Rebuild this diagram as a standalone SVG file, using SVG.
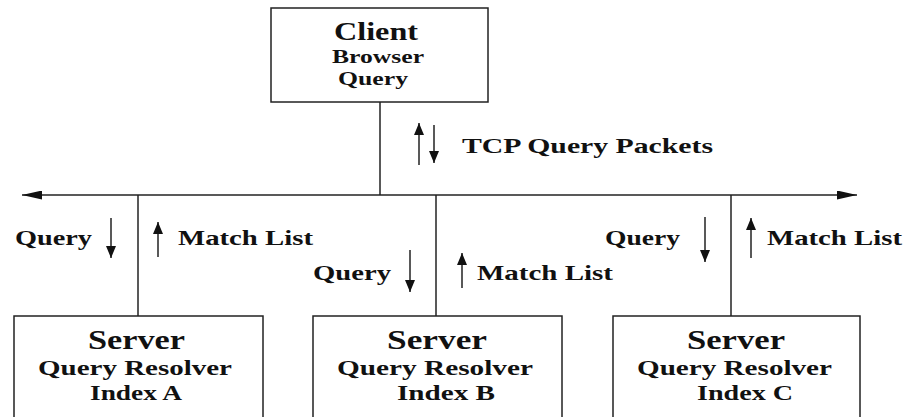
<svg xmlns="http://www.w3.org/2000/svg" width="906" height="417" viewBox="0 0 906 417">
  <style>
    .box { fill: #ffffff; stroke: #222222; stroke-width: 1.5; }
    .ln { fill: none; stroke: #222222; stroke-width: 1.5; }
    .t { font-family: "Liberation Serif", "Times New Roman", serif; font-weight: bold; fill: #111111; }
    .big { font-size: 27px; }
    .mid { font-size: 20px; }
    .lab { font-size: 21px; }
    .cl { font-size: 25px; }
    .sm { font-size: 18px; }
  </style>
  <defs>
    <marker id="ah" viewBox="0 0 12 10" refX="12" refY="5" markerWidth="12" markerHeight="10" markerUnits="userSpaceOnUse" orient="auto">
      <path d="M0,0 L12,5 L0,10 z" fill="#111111"/>
    </marker>
    <marker id="bh" viewBox="0 0 20 9" refX="20" refY="4.5" markerWidth="20" markerHeight="9" markerUnits="userSpaceOnUse" orient="auto">
      <path d="M0,0 L20,4.5 L0,9 z" fill="#111111"/>
    </marker>
  </defs>
  <rect width="906" height="417" fill="#ffffff"/>

  <g id="connectors">
    <line class="ln" x1="380" y1="102" x2="380" y2="195"/>
    <line class="ln" x1="380" y1="195" x2="22" y2="195" marker-end="url(#bh)"/>
    <line class="ln" x1="380" y1="195" x2="857" y2="195" marker-end="url(#bh)"/>
    <line class="ln" x1="138" y1="195" x2="138" y2="316"/>
    <line class="ln" x1="436" y1="195" x2="436" y2="316"/>
    <line class="ln" x1="731" y1="195" x2="731" y2="316"/>
  </g>

  <g id="client">
    <rect class="box" x="271" y="8" width="217" height="94"/>
    <text class="t cl" x="334" y="40" textLength="84" lengthAdjust="spacingAndGlyphs">Client</text>
    <text class="t sm" x="332" y="63" textLength="92" lengthAdjust="spacingAndGlyphs">Browser</text>
    <text class="t sm" x="338" y="85" textLength="70" lengthAdjust="spacingAndGlyphs">Query</text>
  </g>

  <g id="server-a">
    <rect class="box" x="14" y="316" width="249" height="110"/>
    <text class="t big" x="88" y="349" textLength="97" lengthAdjust="spacingAndGlyphs">Server</text>
    <text class="t mid" x="38" y="375" textLength="194" lengthAdjust="spacingAndGlyphs">Query Resolver</text>
    <text class="t mid" x="90" y="400" textLength="92" lengthAdjust="spacingAndGlyphs">Index A</text>
  </g>

  <g id="server-b">
    <rect class="box" x="313" y="316" width="249" height="110"/>
    <text class="t big" x="387" y="349" textLength="100" lengthAdjust="spacingAndGlyphs">Server</text>
    <text class="t mid" x="337" y="375" textLength="196" lengthAdjust="spacingAndGlyphs">Query Resolver</text>
    <text class="t mid" x="397" y="400" textLength="98" lengthAdjust="spacingAndGlyphs">Index B</text>
  </g>

  <g id="server-c">
    <rect class="box" x="613" y="316" width="247" height="110"/>
    <text class="t big" x="687" y="349" textLength="98" lengthAdjust="spacingAndGlyphs">Server</text>
    <text class="t mid" x="637" y="375" textLength="195" lengthAdjust="spacingAndGlyphs">Query Resolver</text>
    <text class="t mid" x="697" y="400" textLength="96" lengthAdjust="spacingAndGlyphs">Index C</text>
  </g>

  <g id="flow-labels">
    <line class="ln" x1="419" y1="165" x2="419" y2="123" marker-end="url(#ah)"/>
    <line class="ln" x1="434" y1="125" x2="434" y2="163" marker-end="url(#ah)"/>
    <text class="t lab" x="462" y="153" textLength="251" lengthAdjust="spacingAndGlyphs">TCP Query Packets</text>

    <text class="t lab" x="15" y="245" textLength="77" lengthAdjust="spacingAndGlyphs">Query</text>
    <line class="ln" x1="111" y1="218" x2="111" y2="258" marker-end="url(#ah)"/>
    <line class="ln" x1="158" y1="257" x2="158" y2="222" marker-end="url(#ah)"/>
    <text class="t lab" x="178" y="245" textLength="135" lengthAdjust="spacingAndGlyphs">Match List</text>

    <text class="t lab" x="313" y="280" textLength="78" lengthAdjust="spacingAndGlyphs">Query</text>
    <line class="ln" x1="410" y1="250" x2="410" y2="292" marker-end="url(#ah)"/>
    <line class="ln" x1="462" y1="288" x2="462" y2="253" marker-end="url(#ah)"/>
    <text class="t lab" x="477" y="280" textLength="136" lengthAdjust="spacingAndGlyphs">Match List</text>

    <text class="t lab" x="605" y="245" textLength="75" lengthAdjust="spacingAndGlyphs">Query</text>
    <line class="ln" x1="705" y1="217" x2="705" y2="262" marker-end="url(#ah)"/>
    <line class="ln" x1="751" y1="258" x2="751" y2="218" marker-end="url(#ah)"/>
    <text class="t lab" x="767" y="245" textLength="135" lengthAdjust="spacingAndGlyphs">Match List</text>
  </g>
</svg>
